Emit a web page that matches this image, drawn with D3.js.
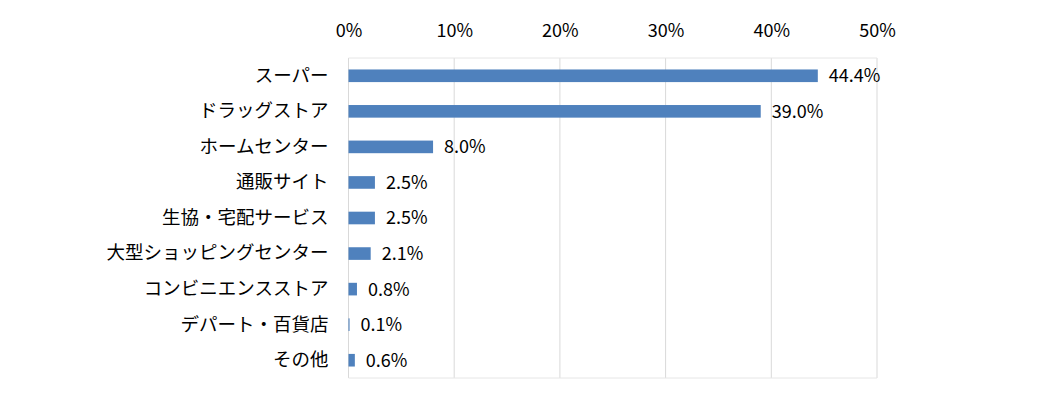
<!DOCTYPE html>
<html>
<head>
<meta charset="utf-8">
<script src="https://cdn.jsdelivr.net/npm/d3@7"></script>
<style>
  html, body { margin: 0; padding: 0; background: #fff; }
  svg { display: block; }
  text { font-family: "Noto Sans CJK JP", "Noto Sans", sans-serif; fill: #000; }
</style>
</head>
<body>
<svg></svg>
<script>
// purchase channel share
const categories = ["スーパー", "ドラッグストア", "ホームセンター", "通販サイト", "生協・宅配サービス",
                    "大型ショッピングセンター", "コンビニエンスストア", "デパート・百貨店", "その他"];
const shares = [44.4, 39.0, 8.0, 2.5, 2.5, 2.1, 0.8, 0.1, 0.6];
const tickValues = [0, 10, 20, 30, 40, 50];

const width = 1056, height = 396;
const margin = {top: 58, right: 179, bottom: 18, left: 348.5};
const innerWidth = width - margin.left - margin.right;
const innerHeight = height - margin.top - margin.bottom;

const svg = d3.select("svg").attr("width", width).attr("height", height);
const g = svg.append("g").attr("transform", "translate(" + margin.left + "," + margin.top + ")");

const x = d3.scaleLinear().domain([0, 50]).range([0, innerWidth]);
const y = d3.scaleBand().domain(categories).range([0, innerHeight]).paddingInner(0.645).paddingOuter(0.3225);

// grid + frame
g.selectAll(".grid").data(tickValues)
  .enter().append("line")
    .attr("class", "grid")
    .attr("x1", d => x(d)).attr("x2", d => x(d))
    .attr("y1", 0).attr("y2", innerHeight)
    .attr("stroke", "#d9d9d9").attr("stroke-width", 1);

g.append("line").attr("x1", 0).attr("x2", innerWidth).attr("y1", 0).attr("y2", 0)
  .attr("stroke", "#e6e6e6");
g.append("line").attr("x1", 0).attr("x2", innerWidth).attr("y1", innerHeight).attr("y2", innerHeight)
  .attr("stroke", "#e6e6e6");

// top axis labels
const xAxis = d3.axisTop(x).tickValues(tickValues).tickFormat(d => d + "%").tickSize(0).tickPadding(0);
g.append("g").attr("transform", "translate(0,-21)").call(xAxis)
  .call(a => a.select(".domain").remove())
  .selectAll("text").style("font-size", "18px").attr("fill", "#000");

// category labels
const yAxis = d3.axisLeft(y).tickSize(0).tickPadding(20);
g.append("g").call(yAxis)
  .call(a => a.select(".domain").remove())
  .selectAll("text").style("font-size", "18.5px").attr("fill", "#000");

// bars
g.selectAll(".bar").data(shares)
  .enter().append("rect")
    .attr("class", "bar")
    .attr("x", 0)
    .attr("y", (d, i) => y(categories[i]))
    .attr("width", d => x(d))
    .attr("height", y.bandwidth())
    .attr("fill", "#4f81bd");

// value labels
g.selectAll(".val").data(shares)
  .enter().append("text")
    .attr("class", "val")
    .attr("x", d => x(d) + 11)
    .attr("y", (d, i) => y(categories[i]) + y.bandwidth() / 2)
    .attr("dy", "0.36em")
    .style("font-size", "18px")
    .text(d => d.toFixed(1) + "%");
</script>
</body>
</html>
